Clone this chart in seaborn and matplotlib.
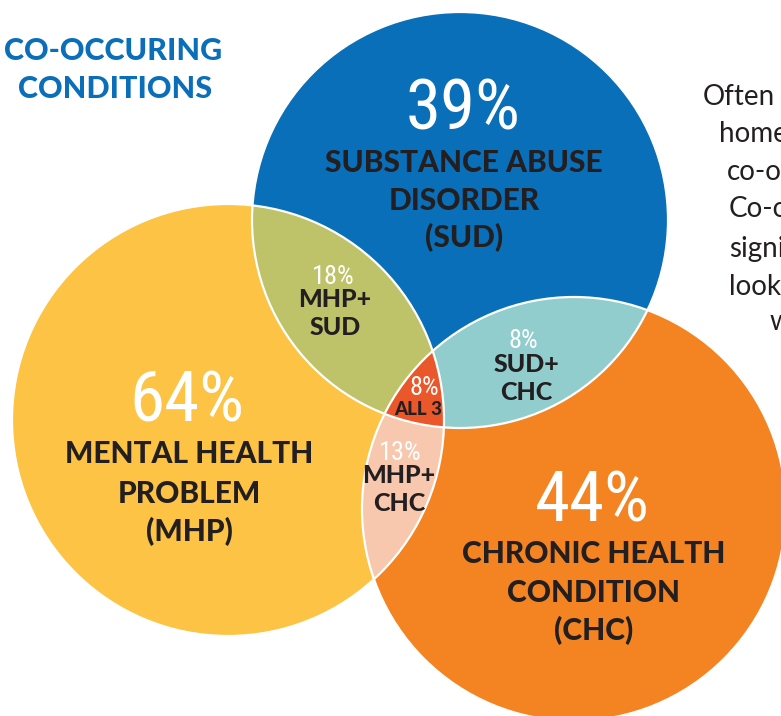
import numpy as np
import matplotlib
matplotlib.use('Agg')
import matplotlib.pyplot as plt
from matplotlib import font_manager
import seaborn as sns

# data
set_codes = ['MHP', 'SUD', 'CHC']
set_lines = [
    ['MENTAL HEALTH', 'PROBLEM', '(MHP)'],
    ['SUBSTANCE ABUSE', 'DISORDER', '(SUD)'],
    ['CHRONIC HEALTH', 'CONDITION', '(CHC)'],
]
set_pcts = [64, 39, 44]
overlap_lines = [['MHP+', 'SUD'], ['SUD+', 'CHC'], ['MHP+', 'CHC'], ['ALL 3']]
overlap_pcts = [18, 8, 13, 8]
title_lines = ['CO-OCCURING', 'CONDITIONS']
side_lines = ['Often', 'homeless', 'co-occurring', 'Co-occurring', 'significant', 'looking', 'with']

# layout (pixel coords, y down)
W, H = 781, 716
centers = [(228, 420), (460, 220), (574, 509)]
radii = [216, 208, 212]
# region colours indexed by membership bits MHP=1, SUD=2, CHC=4
region_colors = sns.color_palette(['#ffffff', '#fcc444', '#0a6fb8', '#bec46a',
                                   '#f48521', '#f7c9ae', '#93cdce', '#e9582a'])
dark = '#231f20'

sns.set_theme(style='white')


def pick(*names):
    avail = {f.name for f in font_manager.fontManager.ttflist}
    for n in names:
        if n in avail:
            return n
    return 'DejaVu Sans'


narrow = pick('Roboto Condensed', 'Liberation Sans Narrow', 'DejaVu Sans')
heavy = pick('Lato', 'DejaVu Sans')
body = pick('Lato', 'DejaVu Sans')

fig = plt.figure(figsize=(W / 100, H / 100), dpi=100)
ax = fig.add_axes([0, 0, 1, 1])
ax.set_xlim(0, W)
ax.set_ylim(H, 0)
ax.axis('off')

# fill the venn regions
xs = np.linspace(0, W, W * 3)
ys = np.linspace(0, H, H * 3)
X, Y = np.meshgrid(xs, ys)
code = np.zeros(X.shape, dtype=int)
for bit, (cx, cy), r in zip([1, 2, 4], centers, radii):
    code |= (((X - cx) ** 2 + (Y - cy) ** 2) <= r ** 2).astype(int) * bit
rgb = np.array(region_colors)[code]
ax.imshow(rgb, extent=(0, W, H, 0), interpolation='antialiased', aspect='auto')

for (cx, cy), r in zip(centers, radii):
    ax.add_patch(plt.Circle((cx, cy), r, fill=False, ec='white', lw=1.6))

# big set labels
pct_pos = [(187, 422), (463, 130), (592, 522)]
name_x = [189, 464, 594]
name_base = [[463, 503, 541], [172, 210, 247], [563, 602, 640]]
for i in range(3):
    ax.text(pct_pos[i][0], pct_pos[i][1], f'{set_pcts[i]}%', color='white',
            family=narrow, fontstretch='condensed', fontsize=51,
            ha='center', va='baseline')
    for line, yb in zip(set_lines[i], name_base[i]):
        ax.text(name_x[i], yb, line, color=dark, family=heavy, weight='black',
                fontsize=21.5, ha='center', va='baseline')

# overlap labels
ov_x = [335, 526, 399, 418]
ov_pct_x = [333, 523, 400, 424]
ov_pct_base = [284, 348, 460, 395]
ov_line_base = [[307, 335], [372, 400], [483, 511], [415]]
for i in range(4):
    ax.text(ov_pct_x[i], ov_pct_base[i], f'{overlap_pcts[i]}%',
            color='white', family=narrow, fontstretch='condensed', fontsize=19,
            ha='center', va='baseline')
    for line, yb in zip(overlap_lines[i], ov_line_base[i]):
        ax.text(ov_x[i], yb, line, color=dark, family=heavy, weight='black',
                fontsize=18 if i < 3 else 13.5, ha='center', va='baseline')

# title
for line, (x, yb) in zip(title_lines, [(113, 60), (115, 98)]):
    ax.text(x, yb, line, color='#0a6fb8', family=heavy, weight='black',
            fontsize=22, ha='center', va='baseline')

# side paragraph, cut by the right edge as in the source
side_pos = [(703, 105), (719, 142), (727, 180), (729, 217), (729, 257), (729, 295), (770, 330)]
for line, (x, yb) in zip(side_lines, side_pos):
    ax.text(x, yb, line, color=dark, family=body, fontsize=20,
            ha='left', va='baseline')

fig.savefig('out.png', dpi=100)
